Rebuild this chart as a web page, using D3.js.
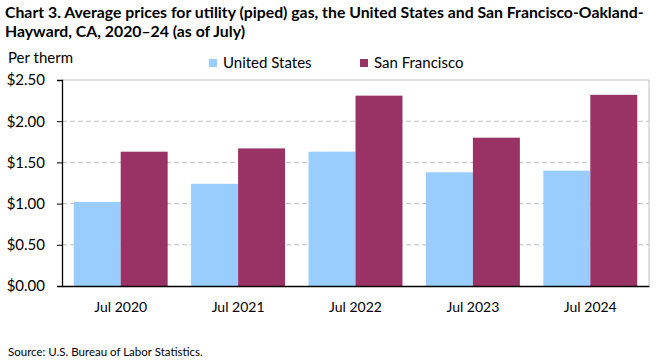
<!DOCTYPE html>
<html>
<head>
<meta charset="utf-8">
<script src="https://cdn.jsdelivr.net/npm/d3@7"></script>
<style>
  body { margin: 0; background: #fff; }
  text { font-family: Lato, "Open Sans", sans-serif; fill: #000; }
</style>
</head>
<body>
<div id="chart"></div>
<script>
// data
const categories = ['Jul 2020', 'Jul 2021', 'Jul 2022', 'Jul 2023', 'Jul 2024'];
const seriesNames = ['United States', 'San Francisco'];
const unitedStates = [1.02, 1.24, 1.63, 1.38, 1.40];
const sanFrancisco = [1.63, 1.67, 2.31, 1.80, 2.32];
const yTicks = [0, 0.5, 1.0, 1.5, 2.0, 2.5];
const colors = ['#99ccff', '#993366'];

const width = 661;
const height = 361;
const margin = { left: 62, top: 80, right: 12, bottom: 75 };

const svg = d3.select('#chart').append('svg')
  .attr('width', width)
  .attr('height', height);

// title
const title = svg.append('text')
  .attr('x', 5)
  .attr('y', 18)
  .style('font-weight', 'bold')
  .style('font-size', '15.8px');
title.append('tspan').attr('x', 5).attr('dy', 0)
  .text('Chart 3. Average prices for utility (piped) gas, the United States and San Francisco-Oakland-');
title.append('tspan').attr('x', 5).attr('dy', 19)
  .text('Hayward, CA, 2020\u201324 (as of July)');

// scales
const x0 = d3.scaleBand()
  .domain(categories)
  .range([margin.left, width - margin.right])
  .paddingInner(0.2)
  .paddingOuter(0.1);

const x1 = d3.scaleBand()
  .domain(seriesNames)
  .range([0, x0.bandwidth()]);

const y = d3.scaleLinear()
  .domain([0, 2.5])
  .range([height - margin.bottom, margin.top]);

const color = d3.scaleOrdinal().domain(seriesNames).range(colors);

// gridlines
svg.append('g')
  .selectAll('line')
  .data(yTicks.filter(d => d > 0 && d < 2.5))
  .enter()
  .append('line')
  .attr('x1', margin.left)
  .attr('x2', width - margin.right)
  .attr('y1', d => y(d))
  .attr('y2', d => y(d))
  .attr('stroke', '#bfbfbf')
  .attr('stroke-width', 1)
  .attr('stroke-dasharray', '5,3');

// plot border (top and right)
svg.append('path')
  .attr('d', `M${margin.left},${y(2.5)}H${width - margin.right}V${y(0)}`)
  .attr('fill', 'none')
  .attr('stroke', '#bfbfbf')
  .attr('stroke-width', 1);

// bars
const rows = categories.map((c, i) => ({
  category: c,
  values: [
    { name: seriesNames[0], value: unitedStates[i] },
    { name: seriesNames[1], value: sanFrancisco[i] },
  ],
}));

svg.append('g')
  .selectAll('g')
  .data(rows)
  .enter()
  .append('g')
  .attr('transform', d => `translate(${x0(d.category)},0)`)
  .selectAll('rect')
  .data(d => d.values)
  .enter()
  .append('rect')
  .attr('x', d => x1(d.name))
  .attr('width', x1.bandwidth())
  .attr('y', d => y(d.value))
  .attr('height', d => y(0) - y(d.value))
  .attr('fill', d => color(d.name));

// y axis
const yAxis = svg.append('g')
  .attr('transform', `translate(${margin.left},0)`)
  .call(d3.axisLeft(y).tickValues(yTicks).tickFormat(d => '$' + d3.format('.2f')(d)).tickSize(5).tickPadding(12));
yAxis.select('.domain').attr('stroke', '#000').attr('stroke-width', 1.3);
yAxis.selectAll('.tick line').attr('stroke', '#000');
yAxis.selectAll('text').style('font-size', '15px').style('font-family', 'Lato, sans-serif');

// x axis
const xAxis = svg.append('g')
  .attr('transform', `translate(0,${y(0)})`)
  .call(d3.axisBottom(x0).tickSize(0).tickPadding(16));
xAxis.select('.domain').attr('stroke', '#000').attr('stroke-width', 1.3);
xAxis.selectAll('text').style('font-size', '14px').style('font-family', 'Lato, sans-serif');

// axis unit
svg.append('text')
  .attr('x', 8)
  .attr('y', 63)
  .style('font-size', '15px')
  .text('Per therm');

// legend
const legendX = [209, 360];
const legend = svg.append('g')
  .selectAll('g')
  .data(seriesNames)
  .enter()
  .append('g')
  .attr('transform', (d, i) => `translate(${legendX[i]},59)`);
legend.append('rect')
  .attr('width', 8)
  .attr('height', 8)
  .attr('fill', d => color(d));
legend.append('text')
  .attr('x', 14)
  .attr('y', 9)
  .style('font-size', '15px')
  .text(d => d);

// source
svg.append('text')
  .attr('x', 8)
  .attr('y', 356)
  .style('font-size', '11.5px')
  .text('Source: U.S. Bureau of Labor Statistics.');
</script>
</body>
</html>
